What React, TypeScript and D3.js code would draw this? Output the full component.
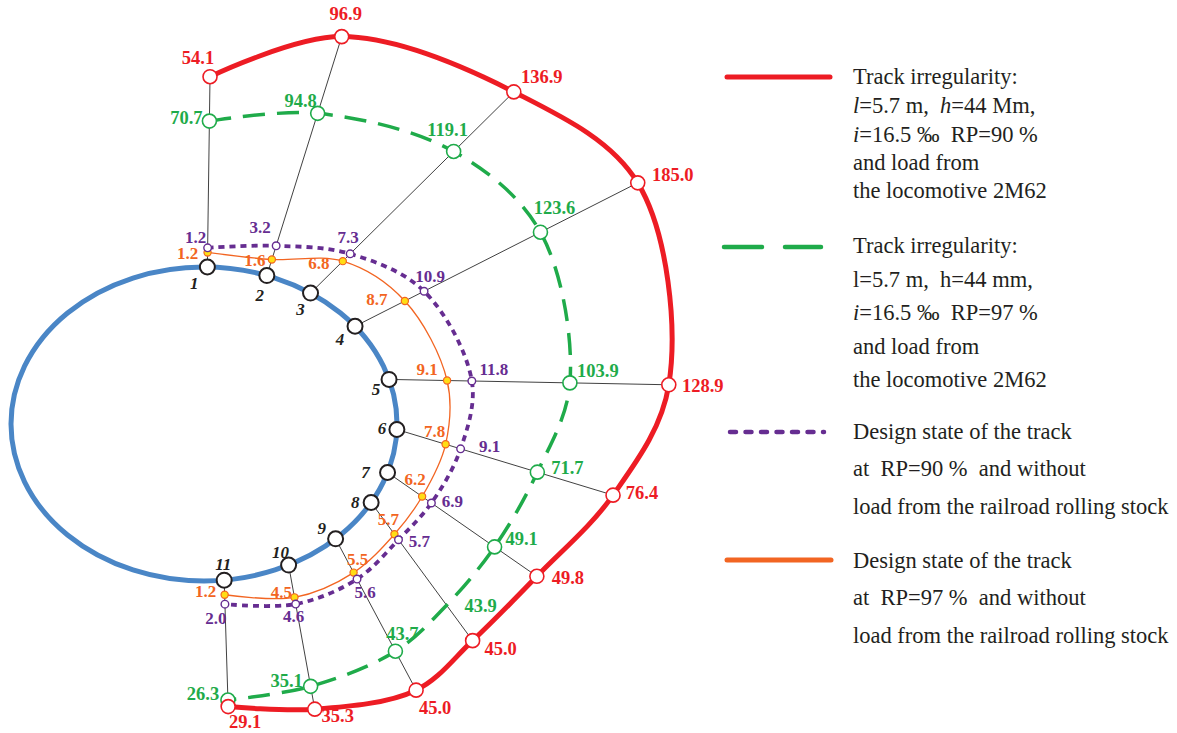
import React from "react";
import * as d3 from "d3";

// Measuring points around the culvert contour
const gaugeNames = ["1", "2", "3", "4", "5", "6", "7", "8", "9", "10", "11"];

// Series values at each measuring point
const redValues = [54.1, 96.9, 136.9, 185.0, 128.9, 76.4, 49.8, 45.0, 45.0, 35.3, 29.1];
const greenValues = [70.7, 94.8, 119.1, 123.6, 103.9, 71.7, 49.1, 43.9, 43.7, 35.1, 26.3];
const purpleValues = [1.2, 3.2, 7.3, 10.9, 11.8, 9.1, 6.9, 5.7, 5.6, 4.6, 2.0];
const orangeValues = [1.2, 1.6, 6.8, 8.7, 9.1, 7.8, 6.2, 5.7, 5.5, 4.5, 1.2];

// Contour geometry: parameter angle of each point on the ellipse and the bearing of its ray (degrees)
const gaugeParam = [89, 71, 56.5, 38.5, 16.5, -2, -18, -30, -47, -64, -84];
const rayBearing = [89.2, 72.6, 44.7, 26.9, -1.1, -16.9, -34.8, -53.7, -62, -79.7, -88.2];

// Label offsets relative to their markers
const redLabelOff = [[-12, -19], [4, -23], [28, -15], [35, -8], [34, 1], [29, -3], [31, 1], [28, 8], [19, 17], [23, 6], [17, 15]];
const greenLabelOff = [[-23, -4], [-17, -13], [-6, -22], [14, -25], [28, -12], [30, -5], [27, -8], [34, 0], [7, -18], [-24, -6], [-25, -7]];
const purpleLabelOff = [[-12, -11], [-16, -19], [-2, -17], [6, -15], [22, -12], [29, -3], [21, -2], [21, 1], [8, 13], [-2, 12], [-9, 14]];
const orangeLabelOff = [[-20, 1], [-17, 1], [-24, 2], [-28, -2], [-20, -11], [-11, -13], [-7, -17], [-6, -15], [4, -14], [-13, -5], [-19, -4]];
const gaugeLabelOff = [[-13, 16], [-7, 19], [-10, 16], [-15, 13], [-13, 10], [-15, -1], [-22, 0], [-16, 0], [-14, -11], [-8, -13], [-1, -16]];

const W = 1177;
const H = 733;
const CX = 204;
const CY = 424;
const RX = 193;
const RY = 157;

const RED = "#ed1c24";
const GREEN = "#1fab4a";
const PURPLE = "#662d91";
const ORANGE = "#f26522";
const YELLOW = "#ffdd15";
const BLUE = "#4a86c6";
const INK = "#231f20";
const SERIF = "'Liberation Serif', 'Times New Roman', serif";

const rad = (d: number) => (d * Math.PI) / 180;

function gaugeXY(i: number): [number, number] {
  const t = rad(gaugeParam[i]);
  return [CX + RX * Math.cos(t), CY - RY * Math.sin(t)];
}

function along(i: number, dist: number): [number, number] {
  const [x, y] = gaugeXY(i);
  const b = rad(rayBearing[i]);
  return [x + dist * Math.cos(b), y - dist * Math.sin(b)];
}

// Radial scales: distance of each mark from its measuring point
const redScale = d3.scaleLog().domain([29.1, 185]).range([126.5, 317]);
const greenScale = d3.scalePow().exponent(2).domain([0, 130]).range([115.8, 217.7]);
const purpleScale = d3.scaleLinear().domain([0, 12]).range([12, 84]);
const orangeScale = d3.scaleLinear().domain([0, 10]).range([8, 63]);

const fmt = d3.format(".1f");

type Series = {
  key: string;
  values: number[];
  scale: (v: number) => number;
  color: string;
  width: number;
  dash?: string;
  r: number;
  fill: string;
  mstroke: number;
  fontSize: number;
  offsets: number[][];
  unmarked?: number[];
};

const series: Series[] = [
  { key: "orange", values: orangeValues, scale: orangeScale, color: ORANGE, width: 1.3, r: 3.6, fill: YELLOW, mstroke: 1.2, fontSize: 17, offsets: orangeLabelOff },
  { key: "purple", values: purpleValues, scale: purpleScale, color: PURPLE, width: 3.8, dash: "6 5", r: 3.8, fill: "#fff", mstroke: 1.4, fontSize: 17, offsets: purpleLabelOff },
  { key: "green", values: greenValues, scale: greenScale, color: GREEN, width: 3.5, dash: "22 12", r: 7, fill: "#fff", mstroke: 1.6, fontSize: 18.5, offsets: greenLabelOff, unmarked: [7] },
  { key: "red", values: redValues, scale: redScale, color: RED, width: 5, r: 7, fill: "#fff", mstroke: 1.6, fontSize: 18.5, offsets: redLabelOff },
];

const lineGen = d3.line<[number, number]>().curve(d3.curveCatmullRom.alpha(0.5));

type Piece = { t: string; it?: boolean };
type LegendEntry = { color: string; y: number; x1: number; x2: number; width: number; dash?: string; lines: { y: number; parts: Piece[] }[] };

const legend: LegendEntry[] = [
  {
    color: RED, y: 77, x1: 727, x2: 830, width: 5,
    lines: [
      { y: 84, parts: [{ t: "Track irregularity:" }] },
      { y: 113, parts: [{ t: "l", it: true }, { t: "=5.7 m,  " }, { t: "h", it: true }, { t: "=44 Mm," }] },
      { y: 142, parts: [{ t: "i", it: true }, { t: "=16.5 ‰  RP=90 %" }] },
      { y: 170, parts: [{ t: "and load from" }] },
      { y: 198, parts: [{ t: "the locomotive 2M62" }] },
    ],
  },
  {
    color: GREEN, y: 247, x1: 724, x2: 821, width: 4.5, dash: "38 23",
    lines: [
      { y: 253, parts: [{ t: "Track irregularity:" }] },
      { y: 287, parts: [{ t: "l=5.7 m,  h=44 mm," }] },
      { y: 320, parts: [{ t: "i", it: true }, { t: "=16.5 ‰  RP=97 %" }] },
      { y: 354, parts: [{ t: "and load from" }] },
      { y: 387, parts: [{ t: "the locomotive 2M62" }] },
    ],
  },
  {
    color: PURPLE, y: 432, x1: 730, x2: 824, width: 4.5, dash: "6 9.5",
    lines: [
      { y: 439, parts: [{ t: "Design state of the track" }] },
      { y: 476, parts: [{ t: "at  RP=90 %  and without" }] },
      { y: 514, parts: [{ t: "load from the railroad rolling stock" }] },
    ],
  },
  {
    color: ORANGE, y: 560, x1: 727, x2: 831, width: 5,
    lines: [
      { y: 568, parts: [{ t: "Design state of the track" }] },
      { y: 605, parts: [{ t: "at  RP=97 %  and without" }] },
      { y: 643, parts: [{ t: "load from the railroad rolling stock" }] },
    ],
  },
];

export default function App() {
  const pts = series.map((s) => s.values.map((v, i) => along(i, s.scale(v))));
  const rayEnds = gaugeNames.map((_, i) => {
    const d = Math.max(...series.map((s) => s.scale(s.values[i])));
    return along(i, d);
  });

  return (
    <svg
      width={W}
      height={H}
      viewBox={`0 0 ${W} ${H}`}
      style={{ position: "absolute", left: 0, top: 0, background: "#fff" }}
    >
      {/* rays from each measuring point */}
      <g stroke="#2b2b2b" strokeWidth={0.9}>
        {gaugeNames.map((_, i) => {
          const [x0, y0] = gaugeXY(i);
          const [x1, y1] = rayEnds[i];
          return <line key={i} x1={x0} y1={y0} x2={x1} y2={y1} />;
        })}
      </g>

      {/* culvert contour */}
      <ellipse cx={CX} cy={CY} rx={RX} ry={RY} fill="none" stroke={BLUE} strokeWidth={5} />

      {/* series curves */}
      {series.map((s, k) => (
        <path
          key={s.key}
          d={lineGen(pts[k]) || ""}
          fill="none"
          stroke={s.color}
          strokeWidth={s.width}
          strokeDasharray={s.dash}
          strokeLinecap={s.dash ? "butt" : "round"}
          strokeLinejoin="round"
        />
      ))}

      {/* series markers */}
      {series.map((s, k) => (
        <g key={s.key + "-m"}>
          {pts[k].map(([x, y], i) =>
            s.unmarked && s.unmarked.includes(i) ? null : (
              <circle key={i} cx={x} cy={y} r={s.r} fill={s.fill} stroke={s.color} strokeWidth={s.mstroke} />
            )
          )}
        </g>
      ))}

      {/* measuring point markers */}
      {gaugeNames.map((_, i) => {
        const [x, y] = gaugeXY(i);
        return <circle key={i} cx={x} cy={y} r={7.5} fill="#fff" stroke={INK} strokeWidth={2} />;
      })}

      {/* value labels */}
      {series.map((s, k) => (
        <g key={s.key + "-l"} fontFamily={SERIF} fontWeight="bold" fontSize={s.fontSize} fill={s.color} textAnchor="middle">
          {pts[k].map(([x, y], i) => (
            <text key={i} x={x + s.offsets[i][0]} y={y + s.offsets[i][1]} dy="0.35em">
              {fmt(s.values[i])}
            </text>
          ))}
        </g>
      ))}

      {/* measuring point numbers */}
      <g fontFamily={SERIF} fontWeight="bold" fontStyle="italic" fontSize={17} fill={INK} textAnchor="middle">
        {gaugeNames.map((n, i) => {
          const [x, y] = gaugeXY(i);
          return (
            <text key={i} x={x + gaugeLabelOff[i][0]} y={y + gaugeLabelOff[i][1]} dy="0.35em">
              {n}
            </text>
          );
        })}
      </g>

      {/* legend */}
      {legend.map((e, k) => (
        <g key={k}>
          <line
            x1={e.x1}
            x2={e.x2}
            y1={e.y}
            y2={e.y}
            stroke={e.color}
            strokeWidth={e.width}
            strokeDasharray={e.dash}
            strokeLinecap="round"
          />
          {e.lines.map((ln, j) => (
            <text key={j} x={853} y={ln.y} fontFamily={SERIF} fontSize={22.5} fill={INK} style={{ whiteSpace: "pre" }}>
              {ln.parts.map((p, m) => (
                <tspan key={m} fontStyle={p.it ? "italic" : "normal"}>
                  {p.t}
                </tspan>
              ))}
            </text>
          ))}
        </g>
      ))}
    </svg>
  );
}
